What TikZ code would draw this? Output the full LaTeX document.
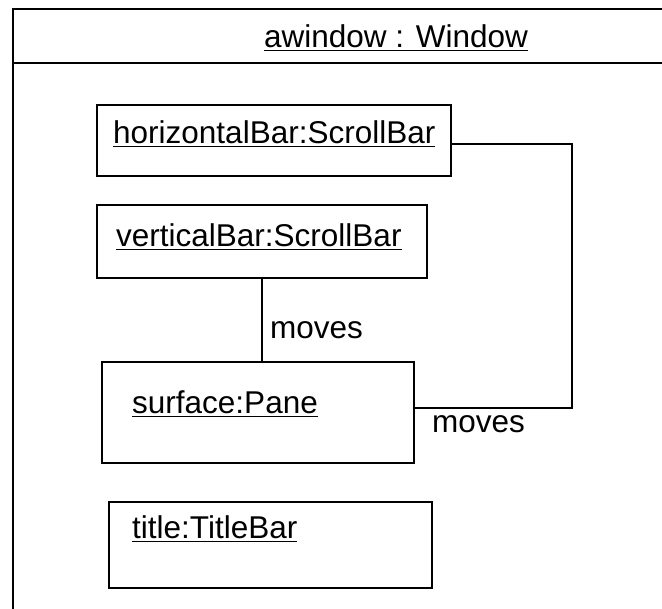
\documentclass[tikz,border=0pt]{standalone}
\usepackage{fontspec}
\setmainfont{Liberation Sans}
\usepackage{tikz}
\usetikzlibrary{positioning,calc}

% underlined object name
\newcommand{\ulname}[1]{\setbox0\hbox{#1}\rlap{\rule[-3.5pt]{\wd0}{1.6pt}}\box0}

\begin{document}
\begin{tikzpicture}[x=1pt,y=-1pt,
    objbox/.style={draw, line width=2.2pt, rectangle, anchor=north west, inner sep=0pt},
    objname/.style={anchor=base west, inner sep=0pt, font=\fontsize{31.5}{38}\selectfont},
    link/.style={line width=1.7pt},
    linklabel/.style={anchor=base west, inner sep=0pt, font=\fontsize{31.5}{38}\selectfont}]
    \useasboundingbox (0,0) rectangle (662,609);

    % Window frame
    \draw[line width=2.2pt] (13,609) -- (13,9) -- (662,9);
    \draw[line width=2.2pt] (13,63) -- (662,63);
    \node[objname, anchor=base] (wintitle) at (396,48) {\ulname{awindow : Window}};

    % Scroll bars
    \node[objbox, minimum width=354pt, minimum height=71pt] (hbar) at (96,104) {};
    \node[objname] (hbarname) at ($(hbar.north west)+(17,40)$) {\ulname{horizontalBar:ScrollBar}};
    \node[objbox, minimum width=330pt, minimum height=73pt] (vbar) at (96,204) {};
    \node[objname] (vbarname) at ($(vbar.north west)+(20,43)$) {\ulname{verticalBar:ScrollBar}};

    % Pane and title bar
    \node[objbox, minimum width=312pt, minimum height=101pt] (surf) at (101,361) {};
    \node[objname] (surfname) at ($(surf.north west)+(31,53)$) {\ulname{surface:Pane}};
    \node[objbox, minimum width=323pt, minimum height=86pt] (tbar) at (108,501) {};
    \node[objname] (tbarname) at ($(tbar.north west)+(24,38)$) {\ulname{title:TitleBar}};

    % Links
    \draw[link] (vbar.south) -- (vbar.south |- surf.north);
    \node[linklabel] (movesv) at (270,339) {moves};
    \draw[link] ([yshift=-3.5pt]hbar.east) -- ++(120,0) |- ([yshift=4.5pt]surf.east);
    \node[linklabel] (movesh) at (432,433) {moves};
\end{tikzpicture}
\end{document}
